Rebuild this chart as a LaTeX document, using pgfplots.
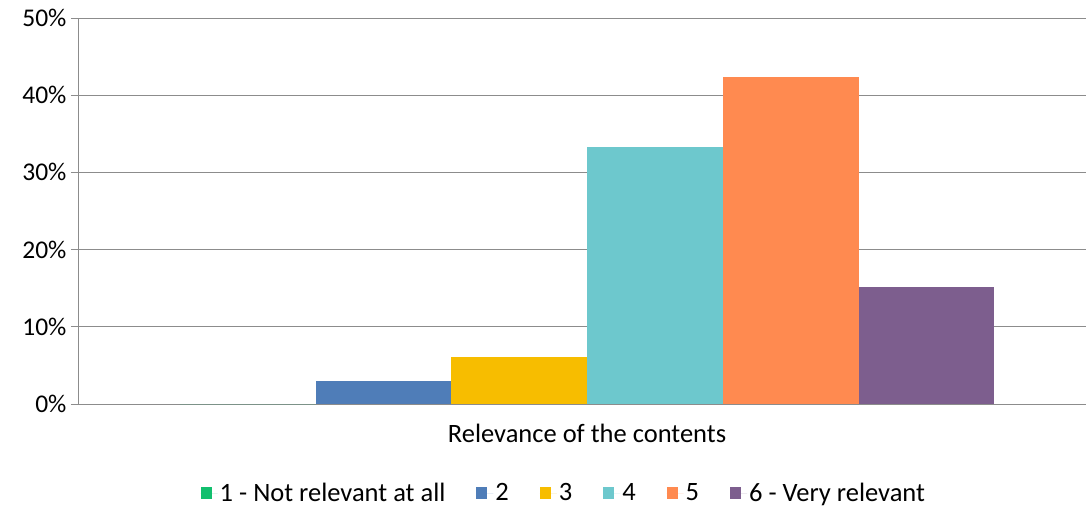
\documentclass[border=0pt]{standalone}
\usepackage{pgfplots}
\pgfplotsset{compat=1.18}
\usepackage{fontspec}
\setmainfont{Carlito}
\definecolor{cA}{HTML}{12BF6E}
\definecolor{cB}{HTML}{4F7DB8}
\definecolor{cC}{HTML}{F7BD00}
\definecolor{cD}{HTML}{6DC8CD}
\definecolor{cE}{HTML}{FF8A50}
\definecolor{cF}{HTML}{7D5E8E}
\definecolor{gridc}{HTML}{8C8C8C}
\begin{document}
\begin{tikzpicture}
\path[use as bounding box] (-78pt,-105pt) rectangle (1008pt,404pt);
\begin{axis}[
  scale only axis,
  width=1008pt, height=386pt,
  at={(0,0)}, anchor=south west,
  font=\fontsize{26.5}{30}\selectfont,
  xmin=0, xmax=1, ymin=0, ymax=50,
  ytick={0,10,20,30,40,50},
  yticklabel={\pgfmathprintnumber{\tick}\%},
  /pgf/number format/assume math mode=true,
  yticklabel style={font=\fontsize{25.5}{28}\selectfont, xshift=-1pt},
  ymajorgrids,
  grid style={gridc, line width=0.8pt},
  axis line style={gridc, line width=0.8pt},
  axis x line*=bottom, axis y line*=left,
  tick style={gridc, line width=0.8pt},
  tick align=outside,
  major tick length=7pt,
  xtick={0.505},
  xticklabels={Relevance of the contents},
  xtick style={draw=none},
  extra x ticks={0,1},
  extra x tick labels={},
  extra x tick style={tick style={gridc, line width=0.8pt}, major tick length=6pt},
  xticklabel style={yshift=-10pt},
  ybar=0pt,
  bar width=0.13466,
  legend style={
    at={(rel axis cs:0.482,0)}, yshift=-89pt, anchor=center,
    draw=none, legend columns=-1, font=\fontsize{26.5}{30}\selectfont,
    /tikz/every even column/.append style={column sep=29pt},
  },
  legend image code/.code={\fill[#1] (0pt,-6pt) rectangle (11pt,6pt); \path (0pt,0pt) -- (17pt,0pt);},
]
\addplot[fill=cA, draw=none] coordinates {(0.505,0)};
\addplot[fill=cB, draw=none] coordinates {(0.505,3.03)};
\addplot[fill=cC, draw=none] coordinates {(0.505,6.06)};
\addplot[fill=cD, draw=none] coordinates {(0.505,33.33)};
\addplot[fill=cE, draw=none] coordinates {(0.505,42.42)};
\addplot[fill=cF, draw=none] coordinates {(0.505,15.15)};
\legend{1 - Not relevant at all,2,3,4,5,6 - Very relevant}
\end{axis}
\end{tikzpicture}
\end{document}
